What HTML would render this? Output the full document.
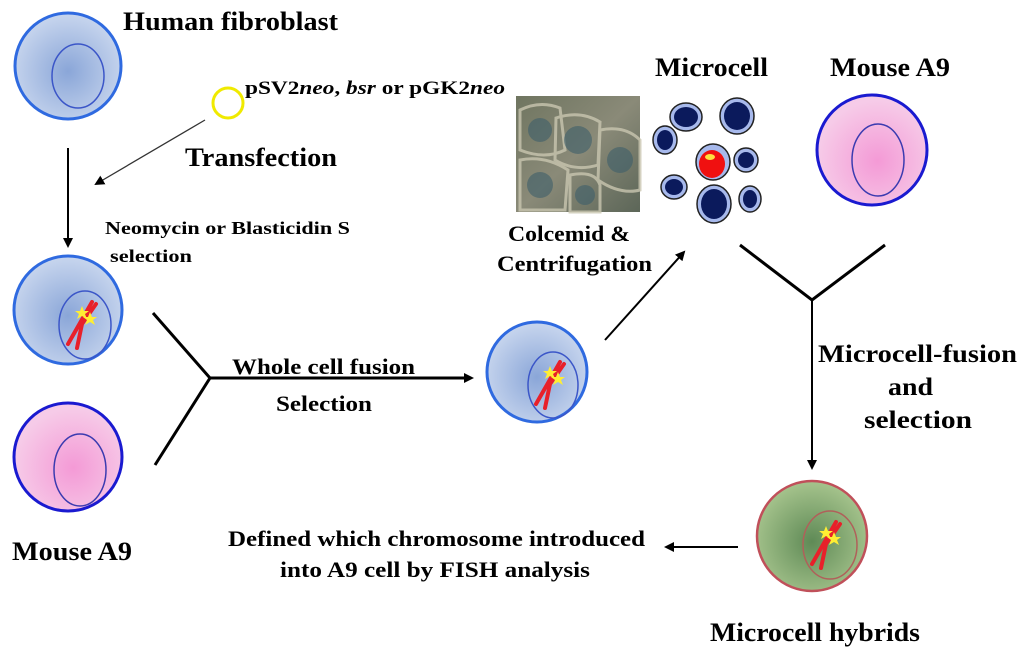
<!DOCTYPE html>
<html><head><meta charset="utf-8"><style>
html,body{margin:0;padding:0;background:#fff;}
svg{display:block;}
text{font-family:"Liberation Serif",serif;font-weight:bold;fill:#000;}
</style></head><body>
<svg width="1024" height="653" viewBox="0 0 1024 653" xmlns="http://www.w3.org/2000/svg">
<defs>
<radialGradient id="bl" cx="0.5" cy="0.55" r="0.55"><stop offset="0" stop-color="#8aa6d8"/><stop offset="1" stop-color="#c8d6ee"/></radialGradient>
<radialGradient id="pk" cx="0.55" cy="0.6" r="0.55"><stop offset="0" stop-color="#f49ad6"/><stop offset="1" stop-color="#f6cbe8"/></radialGradient>
<radialGradient id="gr" cx="0.5" cy="0.55" r="0.55"><stop offset="0" stop-color="#5f8a56"/><stop offset="1" stop-color="#a6c48d"/></radialGradient>
<linearGradient id="ph" x1="0" y1="0" x2="1" y2="1"><stop offset="0" stop-color="#6f7560"/><stop offset="0.5" stop-color="#8a8a78"/><stop offset="1" stop-color="#5c6658"/></linearGradient>
<marker id="ah" markerWidth="10" markerHeight="10" refX="8" refY="5" orient="auto" markerUnits="userSpaceOnUse"><path d="M0,0 L10,5 L0,10 z" fill="#000"/></marker>
<g id="chr"><path d="M-14,22 L10,-20 M-5,26 L0,2 L14,-18" stroke="#e8202a" stroke-width="4" fill="none" stroke-linecap="round"/><polygon points="0,-16 2,-11 7,-11 3,-8 5,-3 0,-6 -5,-3 -3,-8 -7,-11 -2,-11" fill="#ffee33"/><polygon points="8,-10 10,-5 15,-5 11,-2 13,3 8,0 3,3 5,-2 1,-5 6,-5" fill="#ffee33"/></g>
</defs>

<circle cx="68" cy="66" r="53" fill="url(#bl)" stroke="#2f6ae0" stroke-width="3"/>
<ellipse cx="78" cy="76" rx="26" ry="32" fill="none" stroke="#3b56c8" stroke-width="1.5"/>
<text x="123" y="30" font-size="26" textLength="215" lengthAdjust="spacingAndGlyphs">Human fibroblast</text>

<circle cx="228" cy="103" r="15" fill="none" stroke="#f0ea00" stroke-width="3"/>
<text x="245" y="94" font-size="19" textLength="260" lengthAdjust="spacingAndGlyphs">pSV2<tspan font-style="italic">neo</tspan>, <tspan font-style="italic">bsr</tspan>  or pGK2<tspan font-style="italic">neo</tspan></text>
<text x="185" y="166" font-size="26" textLength="152" lengthAdjust="spacingAndGlyphs">Transfection</text>
<line x1="205" y1="120" x2="96" y2="184" stroke="#333" stroke-width="1.3" marker-end="url(#ah)"/>
<line x1="68" y1="148" x2="68" y2="246" stroke="#000" stroke-width="2" marker-end="url(#ah)"/>
<text x="105" y="234" font-size="18" textLength="245" lengthAdjust="spacingAndGlyphs">Neomycin or Blasticidin S</text>
<text x="110" y="262" font-size="18" textLength="82" lengthAdjust="spacingAndGlyphs">selection</text>

<circle cx="68" cy="310" r="54" fill="url(#bl)" stroke="#2f6ae0" stroke-width="3"/>
<ellipse cx="85" cy="325" rx="26" ry="34" fill="none" stroke="#3b56c8" stroke-width="1.5"/>
<use href="#chr" x="82" y="322"/>

<circle cx="68" cy="457" r="54" fill="url(#pk)" stroke="#1a1ad0" stroke-width="3"/>
<ellipse cx="80" cy="470" rx="26" ry="36" fill="none" stroke="#3b3bb0" stroke-width="1.5"/>
<text x="12" y="560" font-size="26" textLength="120" lengthAdjust="spacingAndGlyphs">Mouse A9</text>

<path d="M153,313 L210,378 L155,465 M210,378 L470,378" stroke="#000" stroke-width="3" fill="none"/>
<line x1="410" y1="378" x2="472" y2="378" stroke="#000" stroke-width="2" marker-end="url(#ah)"/>
<text x="232" y="374" font-size="22" textLength="183" lengthAdjust="spacingAndGlyphs">Whole cell fusion</text>
<text x="276" y="411" font-size="22" textLength="96" lengthAdjust="spacingAndGlyphs">Selection</text>

<circle cx="537" cy="372" r="50" fill="url(#bl)" stroke="#2f6ae0" stroke-width="3"/>
<ellipse cx="553" cy="385" rx="25" ry="33" fill="none" stroke="#3b56c8" stroke-width="1.5"/>
<use href="#chr" x="550" y="382"/>
<line x1="605" y1="340" x2="684" y2="252" stroke="#000" stroke-width="2" marker-end="url(#ah)"/>

<rect x="516" y="96" width="124" height="116" fill="url(#ph)"/>
<g fill="none" stroke="#c9c6b0" stroke-width="3" opacity="0.8">
<path d="M520,110 Q540,100 560,108 L565,150 Q545,160 520,150z"/>
<path d="M556,118 Q580,110 600,122 L598,165 Q575,172 555,160z"/>
<path d="M600,130 Q625,125 640,140 L640,190 Q620,195 598,180z"/>
<path d="M520,160 Q545,155 568,170 L565,210 L520,210z"/>
<path d="M570,175 Q595,170 600,185 L600,212 L570,212z"/>
</g>
<g fill="#3e5f6a" opacity="0.6"><circle cx="540" cy="130" r="12"/><circle cx="578" cy="140" r="14"/><circle cx="620" cy="160" r="13"/><circle cx="540" cy="185" r="13"/><circle cx="585" cy="195" r="10"/></g>
<text x="508" y="241" font-size="22" textLength="122" lengthAdjust="spacingAndGlyphs">Colcemid &amp;</text>
<text x="497" y="271" font-size="22" textLength="155" lengthAdjust="spacingAndGlyphs">Centrifugation</text>

<text x="655" y="76" font-size="26" textLength="113" lengthAdjust="spacingAndGlyphs">Microcell</text>
<text x="830" y="76" font-size="26" textLength="120" lengthAdjust="spacingAndGlyphs">Mouse A9</text>
<g stroke="#222" stroke-width="1.5" fill="#a7b9ec">
<ellipse cx="686" cy="117" rx="16" ry="14"/><ellipse cx="737" cy="116" rx="17" ry="18"/>
<ellipse cx="665" cy="140" rx="12" ry="14"/><ellipse cx="746" cy="160" rx="12" ry="12"/>
<ellipse cx="674" cy="187" rx="13" ry="12"/><ellipse cx="714" cy="204" rx="17" ry="19"/>
<ellipse cx="750" cy="199" rx="11" ry="13"/><ellipse cx="713" cy="162" rx="17" ry="18"/>
</g>
<g fill="#0b1a5c">
<ellipse cx="686" cy="117" rx="12" ry="10"/><ellipse cx="737" cy="116" rx="13" ry="14"/>
<ellipse cx="665" cy="140" rx="8" ry="10"/><ellipse cx="746" cy="160" rx="8" ry="8"/>
<ellipse cx="674" cy="187" rx="9" ry="8"/><ellipse cx="714" cy="204" rx="13" ry="15"/>
<ellipse cx="750" cy="199" rx="7" ry="9"/>
</g>
<ellipse cx="712" cy="164" rx="13" ry="14" fill="#f01010"/>
<ellipse cx="710" cy="157" rx="5" ry="3" fill="#ffe040"/>

<circle cx="872" cy="150" r="55" fill="url(#pk)" stroke="#1a1ad0" stroke-width="3"/>
<ellipse cx="878" cy="160" rx="26" ry="36" fill="none" stroke="#3b3bb0" stroke-width="1.5"/>

<path d="M740,245 L812,300 L885,245" stroke="#000" stroke-width="3" fill="none"/>
<line x1="812" y1="300" x2="812" y2="468" stroke="#000" stroke-width="2" marker-end="url(#ah)"/>
<text x="818" y="362" font-size="25" textLength="199" lengthAdjust="spacingAndGlyphs">Microcell-fusion</text>
<text x="888" y="395" font-size="25" textLength="45" lengthAdjust="spacingAndGlyphs">and</text>
<text x="864" y="428" font-size="25" textLength="108" lengthAdjust="spacingAndGlyphs">selection</text>

<circle cx="812" cy="536" r="55" fill="url(#gr)" stroke="#c0505a" stroke-width="2.5"/>
<ellipse cx="830" cy="545" rx="27" ry="34" fill="none" stroke="#b0605a" stroke-width="1.5"/>
<use href="#chr" x="826" y="542"/>
<text x="710" y="641" font-size="26" textLength="210" lengthAdjust="spacingAndGlyphs">Microcell hybrids</text>

<line x1="738" y1="547" x2="666" y2="547" stroke="#000" stroke-width="2" marker-end="url(#ah)"/>
<text x="228" y="546" font-size="22" textLength="417" lengthAdjust="spacingAndGlyphs">Defined which chromosome introduced</text>
<text x="280" y="577" font-size="22" textLength="310" lengthAdjust="spacingAndGlyphs">into A9 cell by FISH analysis</text>
</svg>
</body></html>
